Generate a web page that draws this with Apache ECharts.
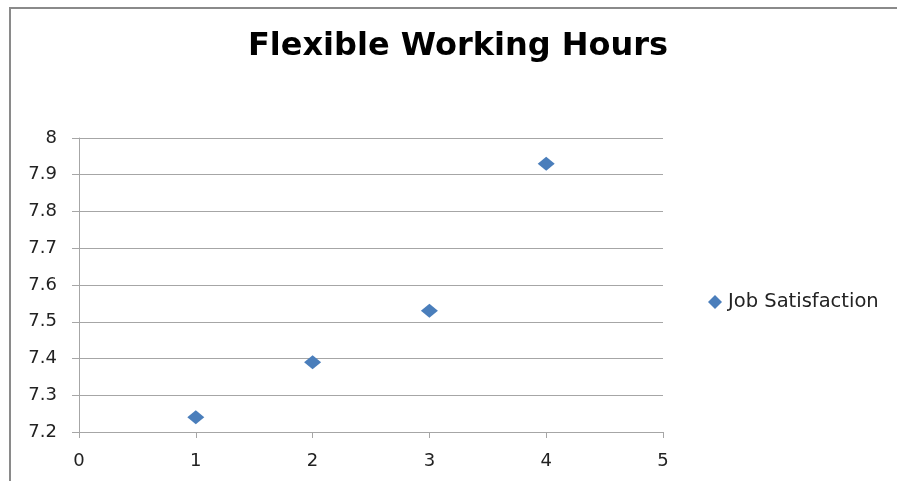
<!DOCTYPE html>
<html>
<head>
<meta charset="utf-8">
<script src="https://cdn.jsdelivr.net/npm/echarts@6/dist/echarts.min.js"></script>
<style>
  html, body { margin: 0; padding: 0; background: #ffffff; }
  #chart { width: 897px; height: 481px; }
</style>
</head>
<body>
<div id="chart"></div>
<script>
// Flexible working hours level vs. job satisfaction score
const hoursLevels = [1, 2, 3, 4];
const jobSatisfaction = [7.24, 7.39, 7.53, 7.93];
const seriesName = 'Job Satisfaction';
const chartTitle = 'Flexible Working Hours';

const points = hoursLevels.map((x, i) => [x, jobSatisfaction[i]]);
const fontFamily = '"DejaVu Sans", "Open Sans", sans-serif';
const diamond = 'path://M0,-1 L1,0 L0,1 L-1,0 Z';

const chart = echarts.init(document.getElementById('chart'), null, { renderer: 'canvas' });
chart.setOption({
  animation: false,
  backgroundColor: '#ffffff',
  graphic: [
    {
      type: 'polyline',
      shape: { points: [[10, 481], [10, 8], [897, 8]] },
      style: { stroke: '#8a8a8a', lineWidth: 2, fill: null },
      silent: true
    }
  ],
  title: {
    text: chartTitle,
    left: 453,
    top: 26,
    textAlign: 'center',
    textStyle: { fontFamily: fontFamily, fontWeight: 'bold', fontSize: 32, color: '#000000' }
  },
  legend: {
    data: [{ name: seriesName, icon: diamond }],
    left: 703,
    top: 287,
    itemWidth: 16,
    itemHeight: 14,
    itemGap: 6,
    textStyle: { fontFamily: fontFamily, fontSize: 19.5, color: '#222222' }
  },
  grid: { left: 79, right: 234, top: 138, bottom: 49, containLabel: false },
  xAxis: {
    type: 'value',
    min: 0,
    max: 5,
    interval: 1,
    axisLine: { show: true, lineStyle: { color: '#a6a6a6', width: 1 } },
    axisTick: { show: true, length: 6, lineStyle: { color: '#a6a6a6' } },
    splitLine: { show: false },
    axisLabel: { fontFamily: fontFamily, fontSize: 18, color: '#222222', margin: 20 }
  },
  yAxis: {
    type: 'value',
    min: 7.2,
    max: 8,
    interval: 0.1,
    axisLine: { show: true, lineStyle: { color: '#a6a6a6', width: 1 } },
    axisTick: { show: true, length: 7, lineStyle: { color: '#a6a6a6' } },
    splitLine: { show: true, lineStyle: { color: '#a6a6a6', width: 1 } },
    axisLabel: {
      fontFamily: fontFamily, fontSize: 18, color: '#222222', margin: 22,
      formatter: v => String(Math.round(v * 10) / 10)
    }
  },
  series: [
    {
      name: seriesName,
      type: 'scatter',
      data: points,
      symbol: diamond,
      symbolSize: [17, 14],
      itemStyle: { color: '#4a7ebb', opacity: 1 }
    }
  ]
});
</script>
</body>
</html>
